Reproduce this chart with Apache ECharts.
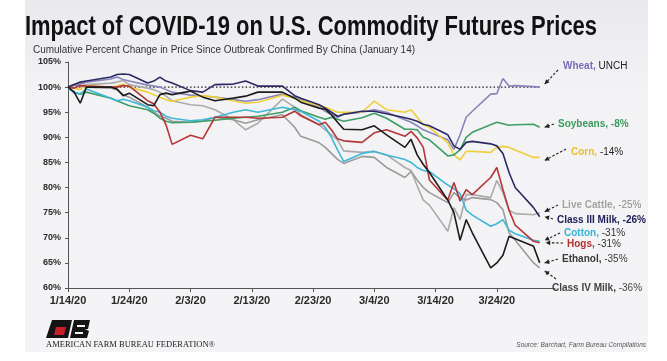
<!DOCTYPE html>
<html><head><meta charset="utf-8">
<script src="https://cdn.jsdelivr.net/npm/echarts@6/dist/echarts.min.js"></script>
<style>html,body{margin:0;padding:0;background:#fff}#c{width:667px;height:361px}</style>
</head><body><div id="c"></div>
<script>
const dates = ["2020-01-14","2020-01-15","2020-01-16","2020-01-17","2020-01-21","2020-01-22","2020-01-23","2020-01-24","2020-01-27","2020-01-28","2020-01-29","2020-01-30","2020-01-31","2020-02-03","2020-02-05","2020-02-07","2020-02-10","2020-02-12","2020-02-14","2020-02-18","2020-02-20","2020-02-21","2020-02-24","2020-02-25","2020-02-26","2020-02-27","2020-02-28","2020-03-02","2020-03-04","2020-03-06","2020-03-09","2020-03-10","2020-03-11","2020-03-12","2020-03-13","2020-03-16","2020-03-17","2020-03-18","2020-03-19","2020-03-20","2020-03-23","2020-03-24","2020-03-25","2020-03-26","2020-03-27","2020-03-30","2020-03-31"];
const wheat = [100,100.4,100.6,101,101.6,102,101.5,101.2,100.4,100.2,100,99.5,99, 98.4,98.2,98,97.5,97.2,97.5,98.6,98,97.5,96,95.2,94.5,94,94.6, 95,95.5,95,93.5,93,92.3,91.5,91,89.5,87.6,90.5,94,95.2,98.6,98.7,101.7,100.2,100.3,100.1,100];
const soybeans = [100,99,98.6,99,97.8,97.3,96.8,96.3,95.5,94.8,93.8,93.2,92.9, 93,93.2,93.4,93.8,94,94.2,95,96,95.3,94,93.6,94,93.6,93.2, 93.9,94.8,93.8,91.6,91.6,91.5,90,89.5,86.3,86.5,87.5,90,91,92.5,93,92.7,92.4,92.5,92.6,92];
const corn = [100,99.8,99.5,100.3,100,100.2,100.6,100,99,98.5,98,97.5,97.2, 98,98.3,98,97.3,96.8,97,98.4,97.8,97.3,96.3,96,95.5,95,95, 95,97.2,95.5,95,95.5,94,92.5,92,88.9,86.5,85.5,87.2,87.2,87,88,88.2,88,87.5,86,86];
const liveCattle = [100,100.3,100.8,100.5,100.8,101,101.3,100.5,99.8,99.5,99,98.2,97.3, 96.5,96.3,95.5,93.5,91.5,92.8,97.6,96,94.5,92.5,91.5,90.5,89.5,87.3, 87,87.2,86.5,84,83.4,80.3,77.5,76.5,71.3,76,73.6,78.6,78.6,78,81.4,79,75.5,74.8,74.6,75];
const classIIIMilk = [100,100.5,101,101.2,102,102.5,102.6,102.5,100.8,101.2,102,101.2,100.8, 99.3,99,100.5,100.6,101.2,100.2,100.2,98.3,97.8,96.5,95.8,95,94.2,94.6, 95.2,95.2,94.7,93.9,93.6,93.2,92.6,92.3,90.5,88.3,87.6,89,89.2,88.7,88.3,86.8,83,80,76,74.2];
const cotton = [100,98.8,98.7,99.6,97.8,97.3,97.6,97.3,96,95.3,95,94.2,93.8, 93.3,93.5,94,95,95.5,95,96,95.5,95.2,93.2,92,90,87.5,85.2, 86.8,87.2,86.5,85.6,85,84,83.4,83.2,80.5,79.8,78.8,75.5,74.5,72.3,72.8,73.6,71.5,70.8,69.5,69.3];
const hogs = [100,99.8,100.3,100.2,100,100,100.3,100.2,97.3,96.7,95,92.5,88.6, 90.4,89.7,94,94,94,93.8,94,95.2,94.3,92.5,93,91.5,89.7,89.3, 89,90.9,91.5,90.2,91.2,89.9,88,81.5,77.5,81,77.3,79.6,78.6,82,84,79.6,75.5,72.5,69.3,69];
const ethanol = [100,99,96.8,100,100,99.6,98.3,98.8,96.5,96.3,98.5,98.8,98.5, 99.2,98,97.3,97.8,98.2,99,99,97.8,97,95.8,95.6,94.5,93,91.6, 91.5,92.3,90.5,88,89.6,86.5,84.6,83,77.5,75,69.5,73.6,71,64,65,66.5,70.3,69.8,68.3,65];
const classIVMilk = [100,100.5,100.2,100,99.8,99.5,98.5,98,96,95,94.2,93.8,93.2, 93,93.2,94,93.5,92.8,93.5,94.5,92,90.2,88.9,88,86.8,85.6,84.8, 86.2,86,84,82,83.2,81.5,80,79,77,79,78,77.5,78,77.6,77,75.6,71,69.5,65,64];
const xTickLabels = ["1/14/20","1/24/20","2/3/20","2/13/20","2/23/20","3/4/20","3/14/20","3/24/20"];
const unchangedLevel = [100, 100];

const base = Date.UTC(2020,0,14);
const dayOf = s => Math.round((Date.UTC(+s.slice(0,4), +s.slice(5,7)-1, +s.slice(8,10)) - base)/86400000);
const xs = dates.map(dayOf);
const pts = arr => arr.map((v,i)=>[xs[i], v]);

const seriesDefs = [
  {name:'Live Cattle', data:liveCattle, color:'#ababab'},
  {name:'Class IV Milk', data:classIVMilk, color:'#9b9b9b'},
  {name:'Wheat', data:wheat, color:'#8984bb'},
  {name:'Corn', data:corn, color:'#efcf3c'},
  {name:'Soybeans', data:soybeans, color:'#3d9e66'},
  {name:'Cotton', data:cotton, color:'#3fb7d6'},
  {name:'Hogs', data:hogs, color:'#b53636'},
  {name:'Class III Milk', data:classIIIMilk, color:'#2c2a62'},
  {name:'Ethanol', data:ethanol, color:'#1c1c1c'}
];

const chart = echarts.init(document.getElementById('c'), null, {renderer:'canvas'});
const FONT = '"Liberation Sans", Arial, sans-serif';

const series = [{
  type:'line', name:'UNCH', symbol:'none', silent:true, z:1,
  data:[[xs[0], unchangedLevel[0]], [xs[xs.length-1], unchangedLevel[1]]],
  lineStyle:{color:'#222', width:1.4, type:[1.5,2.2]}
}].concat(seriesDefs.map((s,i)=>({
  type:'line', name:s.name, symbol:'none', z:2+i,
  data:pts(s.data), lineStyle:{color:s.color, width:1.6}, itemStyle:{color:s.color}
})));

chart.setOption({
  animation:false,
  backgroundColor:'#ffffff',
  grid:{left:68, right:112, top:62, bottom:73},
  xAxis:{type:'value', min:0, max:79.5, interval:10,
    axisLine:{lineStyle:{color:'#555', width:1}},
    axisTick:{show:true, length:4, lineStyle:{color:'#555'}},
    splitLine:{show:false},
    axisLabel:{showMaxLabel:false, margin:7, color:'#2a2a2a', fontWeight:'bold', fontSize:11, fontFamily:FONT,
      formatter:v=>xTickLabels[Math.round(v/10)] || ''}
  },
  yAxis:{type:'value', min:60, max:105, interval:5,
    axisLine:{show:true, lineStyle:{color:'#555', width:1}},
    axisTick:{show:true, length:3, lineStyle:{color:'#555'}},
    splitLine:{show:false},
    axisLabel:{margin:7, color:'#2a2a2a', fontWeight:'bold', fontSize:9, fontFamily:FONT, formatter:v=>v+'%'}
  },
  series:series
});

// ---- annotations ----
const ctx = document.createElement('canvas').getContext('2d');
function measure(text, font){ ctx.font = font; return ctx.measureText(text).width; }

const titleText = 'Impact of COVID-19 on U.S. Commodity Futures Prices';
const titleFont = 'bold 28px "Liberation Sans"';
const titleScale = 572 / measure(titleText, titleFont);
const subText = 'Cumulative Percent Change in Price Since Outbreak Confirmed By China (January 14)';
const subFont = '11px "Liberation Sans"';
const subScale = 382 / measure(subText, subFont);

const last = xs[xs.length-1];
const ann = [
  {tx:563, ty:66, tail:[558,70], val:wheat[wheat.length-1], off:[5,-3], a:'Wheat,', b:' UNCH', ca:'#766eb5', cb:'#222', wb:'normal'},
  {tx:558, ty:124, tail:[554,124], val:soybeans[soybeans.length-1], off:[5,0], a:'Soybeans,', b:' -8%', ca:'#3a9a5e', cb:'#3a9a5e', wb:'bold'},
  {tx:571, ty:152, tail:[566,149], val:corn[corn.length-1], off:[5,3], a:'Corn,', b:' -14%', ca:'#e8c12a', cb:'#222', wb:'normal'},
  {tx:562, ty:205, tail:[558,205], val:liveCattle[liveCattle.length-1], off:[5,-1], a:'Live Cattle,', b:' -25%', ca:'#a3a3a3', cb:'#8a8a8a', wb:'normal'},
  {tx:557, ty:220, tail:[553,219], val:classIIIMilk[classIIIMilk.length-1], off:[5,0], a:'Class III Milk,', b:' -26%', ca:'#22215a', cb:'#22215a', wb:'bold'},
  {tx:564, ty:233, tail:[560,233], val:cotton[cotton.length-1], off:[5,-1], a:'Cotton,', b:' -31%', ca:'#38b2d6', cb:'#333', wb:'normal'},
  {tx:567, ty:244, tail:[563,243], val:hogs[hogs.length-1], off:[6,0], a:'Hogs,', b:' -31%', ca:'#b52f2f', cb:'#333', wb:'normal'},
  {tx:562, ty:259, tail:[558,259], val:ethanol[ethanol.length-1], off:[5,0], a:'Ethanol,', b:' -35%', ca:'#3a3a3a', cb:'#3a3a3a', wb:'normal'},
  {tx:552, ty:288, tail:[556,279], val:classIVMilk[classIVMilk.length-1], off:[5,3], a:'Class IV Milk,', b:' -36%', ca:'#444', cb:'#444', wb:'normal'}
];

const g = [];
// slide background
g.push({type:'rect', z:-10, shape:{x:25, y:0, width:623, height:352},
  style:{fill:new echarts.graphic.LinearGradient(0,0,0,1,[{offset:0,color:'#e9e9ee'},{offset:0.25,color:'#f3f3f6'},{offset:1,color:'#f4f4f6'}])}});
g.push({type:'text', x:25, y:27, scaleX:titleScale, z:10,
  style:{text:titleText, font:titleFont, fill:'#111', verticalAlign:'middle'}});
g.push({type:'text', x:33, y:50, scaleX:subScale, z:10,
  style:{text:subText, font:subFont, fill:'#333', verticalAlign:'middle'}});

ann.forEach(a=>{
  const p = chart.convertToPixel({gridIndex:0}, [last, a.val]);
  const tip = [p[0]+a.off[0], p[1]+a.off[1]];
  const t = a.tail;
  g.push({type:'line', z:10, shape:{x1:t[0], y1:t[1], x2:tip[0], y2:tip[1]},
    style:{stroke:'#222', lineWidth:1.1, lineDash:[2.5,1.8]}});
  const ang = Math.atan2(tip[1]-t[1], tip[0]-t[0]);
  const L=4.5, W=2.4;
  const bx = tip[0]-L*Math.cos(ang), by = tip[1]-L*Math.sin(ang);
  g.push({type:'polygon', z:10, shape:{points:[tip,[bx-W*Math.sin(ang), by+W*Math.cos(ang)],[bx+W*Math.sin(ang), by-W*Math.cos(ang)]]},
    style:{fill:'#222'}});
  g.push({type:'text', x:a.tx, y:a.ty, z:10, style:{
    text:'{a|'+a.a+'}{b|'+a.b+'}', verticalAlign:'middle',
    rich:{a:{fill:a.ca, fontWeight:'bold', fontSize:10, fontFamily:FONT},
          b:{fill:a.cb, fontWeight:a.wb, fontSize:10, fontFamily:FONT}}
  }});
});

// logo
g.push({type:'polygon', z:10, shape:{points:[[52,320],[72,320],[68,338],[46,338]]}, style:{fill:'#141414'}});
g.push({type:'polygon', z:11, shape:{points:[[56,327],[66,327],[64,335],[54,335]]}, style:{fill:'#c8202a'}});
g.push({type:'polygon', z:10, shape:{points:[[74,320],[90,320],[88,329],[85,329],[89,331],[87,338],[70,338]]}, style:{fill:'#141414'}});
g.push({type:'rect', z:11, shape:{x:77, y:325, width:8, height:2}, style:{fill:'#f3f3f6'}});
g.push({type:'rect', z:11, shape:{x:75, y:332, width:8, height:2}, style:{fill:'#f3f3f6'}});
g.push({type:'text', x:46, y:345, z:10, style:{text:'AMERICAN FARM BUREAU FEDERATION®', font:'8.5px "Liberation Serif", serif', fill:'#222', verticalAlign:'middle'}});
g.push({type:'text', x:646, y:345, z:10, style:{text:'Source: Barchart, Farm Bureau Compilations', font:'italic 6.5px "Liberation Sans"', fill:'#555', align:'right', verticalAlign:'middle'}});

chart.setOption({graphic:g});
</script></body></html>
